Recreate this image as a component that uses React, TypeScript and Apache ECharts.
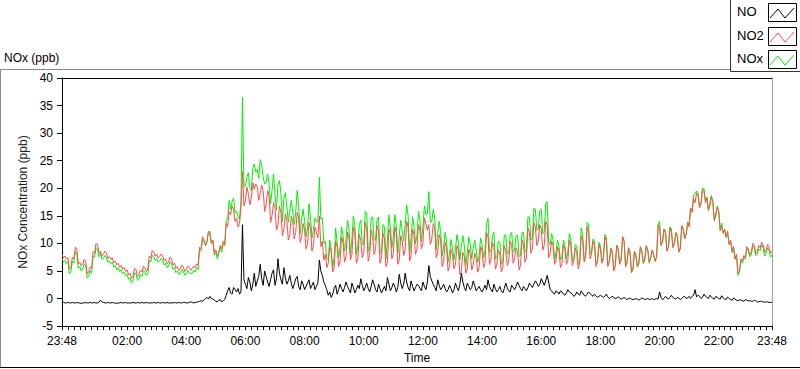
import React, { useEffect, useRef } from "react";
import * as echarts from "echarts";

// Time axis: minutes after 23:48. Main samples every 6 minutes, with the
// readings that fall between them (3 minutes later) kept in *_MID arrays.
const STEP_MIN = 6;
const TICK_MINUTES = [0, 132, 252, 372, 492, 612, 732, 852, 972, 1092, 1212, 1332, 1440];
const TICK_LABELS = ["23:48", "02:00", "04:00", "06:00", "08:00", "10:00", "12:00", "14:00", "16:00", "18:00", "20:00", "22:00", "23:48"];

const NO2 = [
  8.0, 7.7, 7.4, 5.6, 7.2, 9.0, 6.6, 6.2, 6.8, 4.8,
  5.4, 8.2, 9.8, 8.6, 8.0, 8.3, 7.6, 7.4, 6.8, 6.4,
  6.0, 5.6, 5.2, 4.6, 4.0, 5.2, 4.3, 4.8, 5.6, 5.2,
  7.4, 8.4, 8.0, 7.6, 7.8, 7.2, 6.6, 7.2, 6.4, 5.8,
  5.4, 5.8, 5.2, 5.6, 5.4, 5.6, 6.0, 9.0, 10.6, 10.2,
  11.6, 10.6, 8.8, 8.4, 9.0, 9.8, 13.0, 15.2, 16.2, 14.6,
  13.6, 23.0, 17.8, 19.0, 18.2, 19.8, 20.2, 19.0, 19.6, 17.0,
  18.6, 15.0, 16.4, 13.4, 15.6, 12.6, 14.2, 11.6, 13.8, 12.0,
  14.6, 11.2, 12.4, 10.0, 12.8, 9.6, 12.0, 15.0, 10.4, 8.0,
  6.4, 8.6, 5.6, 9.4, 6.8, 10.2, 7.6, 11.0, 8.0, 12.0,
  7.2, 10.6, 8.4, 12.8, 7.8, 11.4, 9.0, 12.2, 7.4, 10.8,
  6.6, 11.6, 8.2, 12.0, 7.0, 10.4, 8.8, 13.0, 7.8, 11.6,
  9.0, 12.4, 10.0, 13.6, 13.4, 10.8, 12.6, 8.4, 10.6, 6.8,
  9.2, 5.8, 8.0, 6.2, 8.8, 5.0, 7.6, 5.4, 8.2, 6.0,
  7.4, 5.6, 8.6, 6.4, 11.2, 7.0, 9.4, 6.2, 8.0, 5.6,
  8.8, 6.8, 9.6, 7.2, 8.4, 6.0, 9.8, 7.4, 12.0, 9.0,
  13.0, 10.4, 12.6, 9.6, 13.4, 8.2, 9.6, 7.0, 8.6, 6.4,
  9.0, 7.0, 9.8, 6.8, 8.4, 6.2, 10.6, 7.4, 12.2, 8.0,
  9.6, 6.6, 9.0, 7.2, 10.4, 6.6, 8.2, 5.8, 8.8, 7.0,
  10.4, 6.6, 8.4, 5.4, 7.8, 6.6, 8.6, 7.2, 8.8, 7.4,
  8.0, 7.6, 12.8, 10.4, 11.8, 9.4, 12.0, 10.0, 11.2, 9.2,
  12.4, 11.6, 13.0, 15.6, 17.4, 18.6, 17.2, 19.4, 18.2, 16.8,
  17.6, 15.0, 15.8, 13.2, 12.6, 12.0, 10.6, 9.4, 8.0, 5.0,
  6.8, 7.4, 9.0, 8.4, 9.6, 8.6, 9.2, 9.8, 8.8, 9.4, 8.6,
];

const NO2_MID = [
  7.4, 7.1, 5.3, 7.5, 9.3, 6.3, 5.9, 7.1, 4.5, 5.7,
  8.5, 10.0, 8.3, 7.7, 8.6, 7.3, 7.1, 6.5, 6.1, 5.7,
  5.3, 4.9, 4.3, 3.7, 5.5, 4.0, 5.1, 5.9, 4.9, 7.7,
  8.7, 7.7, 7.3, 8.1, 6.9, 6.3, 7.5, 6.1, 5.5, 5.1,
  6.1, 4.9, 5.9, 5.1, 5.9, 6.3, 9.3, 11.2, 9.6, 12.2,
  10.0, 8.2, 7.8, 9.6, 10.4, 13.6, 15.8, 16.8, 14.0, 13.0,
  16.4, 16.8, 20.2, 17.0, 21.0, 20.8, 17.8, 20.6, 15.8, 19.6,
  13.8, 17.4, 12.4, 16.8, 11.4, 15.4, 10.6, 15.0, 10.8, 15.6,
  10.2, 13.6, 9.0, 13.8, 8.6, 13.0, 11.0, 9.4, 7.0, 5.6,
  9.4, 4.8, 10.4, 5.8, 11.2, 6.6, 12.0, 7.0, 13.0, 6.4,
  11.6, 7.4, 13.8, 6.8, 12.4, 8.0, 13.2, 6.4, 11.8, 5.8,
  12.6, 7.2, 13.0, 6.2, 11.4, 7.8, 14.0, 6.8, 12.6, 8.0,
  13.4, 9.0, 14.6, 12.4, 9.8, 13.6, 7.4, 11.6, 5.8, 10.2,
  5.0, 8.9, 5.4, 9.6, 4.4, 8.4, 4.6, 9.0, 5.2, 8.2,
  4.8, 9.4, 5.6, 12.0, 6.2, 10.2, 5.4, 8.8, 4.8, 9.6,
  6.0, 10.4, 6.4, 9.2, 5.2, 10.6, 6.6, 12.8, 8.2, 13.8,
  9.6, 13.4, 8.8, 14.0, 7.4, 10.4, 6.2, 9.4, 5.6, 9.8,
  6.2, 10.6, 6.0, 9.2, 5.4, 11.4, 6.6, 13.0, 7.2, 10.4,
  5.8, 9.8, 6.4, 11.2, 5.8, 9.0, 5.0, 9.6, 6.2, 11.2,
  5.8, 9.2, 4.8, 8.6, 5.8, 9.4, 6.4, 9.6, 6.6, 8.8,
  6.8, 13.4, 9.6, 12.6, 8.6, 12.8, 9.2, 12.0, 8.4, 13.2,
  10.8, 13.8, 16.4, 18.2, 19.2, 16.4, 19.8, 17.4, 16.0, 18.4,
  14.2, 16.6, 12.4, 11.8, 11.2, 9.8, 8.6, 7.2, 4.6, 7.2,
  7.8, 9.4, 8.0, 10.0, 8.2, 9.6, 10.2, 8.4, 9.8, 8.2,
];

const NO = [
  -0.8, -0.8, -0.7, -0.8, -0.8, -0.7, -0.8, -0.8, -0.7, -0.8,
  -0.8, -0.7, -0.8, -0.3, -0.7, -0.8, -0.8, -0.7, -0.8, -0.8,
  -0.7, -0.8, -0.8, -0.8, -0.7, -0.8, -0.8, -0.7, -0.8, -0.8,
  -0.8, -0.7, -0.8, -0.8, -0.7, -0.8, -0.8, -0.8, -0.7, -0.8,
  -0.8, -0.7, -0.8, -0.7, -0.7, -0.7, -0.6, -0.4, -0.3, 0.2,
  0.4, -0.1, -0.5, -0.3, -0.6, -0.2, 1.4, 1.0, 2.0, 1.2,
  0.8, 13.4, 2.6, 3.8, 1.4, 4.6, 3.2, 6.2, 2.4, 4.0,
  2.2, 4.6, 2.4, 7.2, 3.4, 5.6, 2.6, 4.2, 1.8, 3.6,
  2.2, 3.2, 1.6, 2.8, 1.8, 3.0, 2.2, 7.0, 4.2, 2.4,
  0.6, 0.2, 1.8, 0.8, 2.6, 1.2, 3.0, 1.6, 2.8, 1.0,
  2.4, 3.6, 1.4, 2.8, 1.2, 3.4, 1.6, 2.6, 1.0, 2.2,
  3.8, 1.4, 2.8, 1.2, 4.4, 1.8, 4.6, 2.0, 3.2, 1.4,
  2.6, 1.8, 3.0, 1.6, 6.0, 3.2, 2.0, 3.4, 1.6, 2.6,
  1.2, 2.4, 1.0, 2.8, 1.4, 4.6, 2.0, 2.8, 1.6, 3.2,
  1.4, 2.2, 1.2, 2.4, 3.4, 1.6, 2.6, 1.2, 2.2, 1.0,
  2.8, 1.4, 2.4, 1.6, 3.0, 1.8, 2.2, 1.4, 2.8, 2.0,
  3.2, 2.2, 3.6, 2.4, 4.2, 1.6, 1.0, 1.4, 0.8, 1.2,
  0.6, 1.6, 1.0, 0.4, 1.2, 0.6, 1.0, 0.4, 1.2, 0.6,
  0.8, 0.2, 0.6, 0.2, 0.8, 0.0, 0.4, 0.0, 0.3, -0.1,
  0.2, -0.2, 0.1, -0.2, 0.0, -0.3, 0.1, -0.2, 0.0, -0.1,
  -0.2, 0.0, 1.2, -0.2, 0.4, -0.1, 0.6, 0.0, 0.2, -0.2,
  0.3, 0.0, 0.4, 0.4, 1.6, 0.6, 0.0, 0.8, 0.2, 0.6,
  0.0, 0.4, 0.0, 0.5, -0.1, 0.3, -0.2, 0.1, -0.3, -0.2,
  -0.4, -0.2, -0.4, -0.5, -0.3, -0.6, -0.5, -0.6, -0.6, -0.7, -0.7,
];

const NO_MID = [
  -0.7, -0.8, -0.8, -0.7, -0.8, -0.8, -0.9, -0.8, -0.8, -0.7,
  -0.8, -0.8, -0.7, -0.6, -0.8, -0.7, -0.8, -0.8, -0.9, -0.8,
  -0.8, -0.7, -0.8, -0.8, -0.8, -0.7, -0.8, -0.8, -0.7, -0.8,
  -0.8, -0.8, -0.7, -0.8, -0.8, -0.7, -0.8, -0.8, -0.8, -0.7,
  -0.8, -0.7, -0.8, -0.6, -0.8, -0.7, -0.5, -0.5, 0.0, -0.1,
  0.0, -0.3, -0.6, -0.2, -0.4, 0.6, 2.0, 0.8, 1.6, 1.8,
  1.2, 3.4, 1.8, 3.0, 2.6, 2.2, 4.0, 3.6, 5.0, 3.0,
  3.4, 5.2, 3.6, 4.6, 2.6, 3.8, 3.2, 2.8, 2.6, 4.0,
  1.6, 2.6, 2.2, 3.4, 2.4, 1.6, 2.8, 5.0, 3.0, 1.6,
  1.2, 0.8, 2.4, 1.6, 1.8, 2.0, 2.2, 1.0, 2.0, 1.6,
  1.8, 2.4, 2.0, 1.8, 2.2, 2.6, 1.2, 1.8, 1.6, 1.4,
  2.6, 2.0, 2.2, 2.0, 2.8, 2.6, 3.0, 1.4, 2.2, 2.0,
  2.4, 1.4, 2.2, 3.0, 4.0, 2.6, 1.4, 2.4, 2.0, 1.8,
  1.6, 1.8, 1.6, 2.0, 2.6, 3.0, 1.4, 2.2, 2.0, 2.4,
  1.8, 1.6, 1.8, 1.6, 2.2, 1.2, 1.8, 1.6, 1.4, 1.8,
  2.0, 1.2, 2.0, 2.2, 2.4, 1.4, 1.8, 2.0, 2.4, 2.6,
  2.8, 2.6, 3.0, 3.2, 3.0, 1.4, 0.8, 1.2, 1.4, 0.8,
  1.0, 1.2, 0.8, 0.6, 0.8, 1.4, 0.6, 0.8, 0.9, 0.4,
  0.5, 0.4, 0.4, 0.4, 0.3, 0.2, 0.2, 0.1, 0.1, 0.0,
  0.0, 0.0, -0.1, -0.1, -0.1, -0.1, 0.0, -0.1, -0.2, 0.0,
  -0.1, -0.1, 0.2, 0.0, 0.1, 0.2, 0.2, -0.1, 0.1, 0.0,
  0.4, 0.1, 0.0, 0.6, 0.3, 0.4, 0.2, 0.4, 0.0, 0.3,
  -0.1, 0.2, -0.1, 0.1, -0.2, 0.0, -0.3, -0.1, -0.4, -0.3,
  -0.5, -0.3, -0.4, -0.5, -0.4, -0.6, -0.5, -0.7, -0.6, -0.7,
];

const NOX = [
  7.2, 6.9, 6.7, 4.8, 6.4, 8.3, 5.8, 5.4, 6.1, 4.0,
  4.6, 7.5, 9.0, 8.3, 7.3, 7.5, 6.8, 6.6, 6.0, 5.6,
  5.2, 4.8, 4.4, 3.8, 3.2, 4.4, 3.5, 4.0, 4.8, 4.4,
  6.6, 7.6, 7.2, 6.8, 7.0, 6.4, 5.8, 6.4, 5.6, 5.0,
  4.6, 5.0, 4.4, 4.8, 4.6, 4.8, 5.3, 8.6, 10.3, 10.4,
  12.2, 10.5, 8.3, 8.1, 8.4, 9.6, 14.4, 16.2, 18.2, 15.8,
  14.4, 36.5, 20.4, 22.8, 19.6, 24.4, 23.4, 25.2, 22.0, 21.0,
  20.8, 19.6, 18.8, 20.6, 19.0, 18.2, 16.8, 15.8, 15.6, 15.6,
  16.8, 14.4, 14.0, 12.8, 14.6, 12.6, 14.2, 22.0, 14.6, 10.4,
  7.0, 8.8, 7.4, 10.2, 9.4, 11.4, 10.6, 12.6, 10.8, 13.0,
  9.6, 14.2, 9.8, 15.6, 9.0, 14.8, 10.6, 14.8, 8.4, 13.0,
  10.4, 13.0, 11.0, 13.2, 11.4, 12.2, 13.4, 15.0, 11.0, 13.0,
  11.6, 14.2, 13.0, 15.2, 19.4, 14.0, 14.6, 11.8, 12.2, 9.4,
  10.4, 8.2, 9.0, 9.0, 10.2, 9.6, 9.6, 8.2, 9.8, 9.2,
  8.8, 7.8, 9.8, 8.8, 14.6, 8.6, 12.0, 7.4, 10.2, 6.6,
  11.6, 8.2, 12.0, 8.8, 11.4, 7.8, 12.0, 8.8, 14.8, 11.0,
  16.2, 12.6, 16.2, 12.0, 17.6, 9.8, 10.6, 8.4, 9.4, 7.6,
  9.6, 8.6, 10.8, 7.2, 9.6, 6.8, 11.6, 7.8, 13.4, 8.6,
  10.4, 6.8, 9.6, 7.4, 11.2, 6.6, 8.6, 5.8, 9.1, 6.9,
  10.6, 6.4, 8.5, 5.2, 7.8, 6.3, 8.7, 7.0, 8.8, 7.3,
  7.8, 7.6, 14.0, 10.2, 12.2, 9.3, 12.6, 10.0, 11.4, 9.0,
  12.7, 11.6, 13.4, 16.0, 19.0, 19.2, 17.2, 20.0, 18.4, 17.4,
  17.6, 15.4, 15.8, 13.7, 12.5, 12.3, 10.4, 9.5, 7.7, 4.8,
  6.4, 7.2, 8.6, 7.9, 9.3, 8.0, 8.7, 9.2, 8.2, 8.7, 7.9,
];

const NOX_MID = [
  6.7, 6.3, 4.5, 6.8, 8.5, 5.5, 5.0, 6.3, 3.7, 5.0,
  7.7, 9.2, 7.6, 7.1, 7.8, 6.6, 6.3, 5.7, 5.2, 4.9,
  4.5, 4.2, 3.5, 2.9, 4.7, 3.3, 4.3, 5.1, 4.2, 6.9,
  7.9, 6.9, 6.6, 7.3, 6.1, 5.6, 6.7, 5.3, 4.7, 4.4,
  5.3, 4.2, 5.1, 4.5, 5.1, 5.6, 8.8, 10.7, 9.6, 12.1,
  10.0, 7.9, 7.2, 9.4, 10.0, 14.2, 17.8, 17.6, 15.6, 14.8,
  17.6, 20.2, 22.0, 20.0, 23.6, 23.0, 21.8, 24.2, 20.8, 22.6,
  17.2, 22.6, 16.0, 21.4, 14.0, 19.2, 13.8, 17.8, 13.4, 19.6,
  11.8, 16.2, 11.2, 17.2, 11.0, 14.6, 13.8, 14.4, 10.0, 7.2,
  10.6, 5.6, 12.8, 7.4, 13.0, 8.6, 14.2, 8.0, 15.0, 8.0,
  13.4, 9.8, 15.8, 8.6, 14.6, 10.6, 14.4, 8.2, 13.4, 7.2,
  15.2, 9.2, 15.2, 8.2, 14.2, 10.4, 17.0, 8.2, 14.8, 10.0,
  15.8, 10.4, 16.8, 15.4, 13.8, 16.2, 8.8, 14.0, 7.8, 12.0,
  6.6, 10.7, 7.0, 11.6, 7.0, 11.4, 6.0, 11.2, 7.2, 10.6,
  6.6, 11.0, 7.4, 13.6, 8.4, 11.4, 7.2, 10.4, 6.2, 11.4,
  8.0, 11.6, 8.4, 11.4, 7.6, 12.0, 8.4, 14.8, 10.6, 16.4,
  12.4, 16.0, 11.8, 17.2, 10.4, 11.8, 7.0, 10.6, 7.0, 10.6,
  7.2, 11.8, 6.8, 9.8, 6.2, 12.8, 7.2, 13.8, 8.1, 10.8,
  6.3, 10.2, 6.8, 11.6, 6.1, 9.2, 5.2, 9.7, 6.3, 11.2,
  5.8, 9.2, 4.7, 8.5, 5.7, 9.3, 6.4, 9.5, 6.4, 8.8,
  6.7, 13.3, 9.8, 12.6, 8.7, 13.0, 9.4, 11.9, 8.5, 13.2,
  11.2, 13.9, 16.4, 18.8, 19.5, 16.8, 20.0, 17.8, 16.0, 18.7,
  14.1, 16.8, 12.3, 11.9, 11.0, 9.8, 8.3, 7.1, 4.2, 6.9,
  7.3, 9.1, 7.6, 9.5, 7.8, 9.0, 9.7, 7.7, 9.2, 7.5,
];

const SERIES_NAMES = ["NO", "NO2", "NOx"];
const SERIES_COLORS = ["#000000", "#ff4c4c", "#00f000"];

const FONT = "'Liberation Sans', Arial, sans-serif";

function toPairs(main: number[], mid: number[]) {
  const out: number[][] = [];
  main.forEach((v, i) => {
    out.push([i * STEP_MIN, v]);
    if (i < mid.length) out.push([i * STEP_MIN + STEP_MIN / 2, mid[i]]);
  });
  return out;
}

function legendEntry(idx: number, top: number) {
  const bx = 768;
  const by = top;
  return [
    {
      type: "text",
      left: 737,
      top: by + 2,
      style: { text: SERIES_NAMES[idx], font: `13px ${FONT}`, fill: "#000" },
    },
    {
      type: "rect",
      shape: { x: bx + 0.5, y: by + 0.5, width: 28, height: 18 },
      style: { fill: "#fff", stroke: "#000", lineWidth: 1 },
    },
    {
      type: "polyline",
      shape: {
        points: [
          [bx + 2, by + 15],
          [bx + 10, by + 6],
          [bx + 17, by + 15],
          [bx + 26, by + 5],
        ],
      },
      style: { stroke: SERIES_COLORS[idx], lineWidth: 1, fill: null },
    },
  ];
}

export default function App() {
  const ref = useRef<HTMLDivElement>(null);

  useEffect(() => {
    if (!ref.current) return;
    const chart = echarts.init(ref.current, null, { renderer: "svg" });
    const option: any = {
      animation: false,
      backgroundColor: "#ffffff",
      textStyle: { fontFamily: FONT },
      grid: { left: 62, right: 28, top: 78, bottom: 39, containLabel: false },
      xAxis: [
        {
          type: "value",
          min: 0,
          max: 1440,
          interval: 12,
          position: "bottom",
          axisLine: { show: true, onZero: false, lineStyle: { color: "#000", width: 1 } },
          axisTick: { show: true, length: 4, lineStyle: { color: "#000" } },
          axisLabel: {
            margin: 9,
            color: "#000",
            fontSize: 12,
            fontFamily: FONT,
            showMinLabel: true,
            showMaxLabel: true,
            formatter: (v: number) => {
              const k = TICK_MINUTES.indexOf(Math.round(v));
              return k >= 0 ? TICK_LABELS[k] : "";
            },
          },
          splitLine: { show: false },
          name: "Time",
          nameLocation: "middle",
          nameGap: 25,
          nameTextStyle: { color: "#000", fontSize: 12, fontFamily: FONT },
        },
        {
          type: "value",
          min: 0,
          max: 1440,
          position: "top",
          axisLine: { show: true, onZero: false, lineStyle: { color: "#000", width: 1 } },
          axisTick: { show: false },
          axisLabel: { show: false },
          splitLine: { show: false },
        },
      ],
      yAxis: [
        {
          type: "value",
          min: -5,
          max: 40,
          interval: 5,
          position: "left",
          axisLine: { show: true, onZero: false, lineStyle: { color: "#000", width: 1 } },
          axisTick: { show: true, length: 5, lineStyle: { color: "#000" } },
          axisLabel: { margin: 9, color: "#000", fontSize: 12, fontFamily: FONT },
          splitLine: { show: false },
          name: "NOx Concentration (ppb)",
          nameLocation: "middle",
          nameGap: 25,
          nameRotate: 90,
          nameTextStyle: { color: "#222", fontSize: 12, fontFamily: FONT },
        },
        {
          type: "value",
          min: -5,
          max: 40,
          position: "right",
          axisLine: { show: true, onZero: false, lineStyle: { color: "#a0a0a0", width: 1 } },
          axisTick: { show: false },
          axisLabel: { show: false },
          splitLine: { show: false },
        },
      ],
      series: [
        {
          name: "NOx",
          type: "line",
          data: toPairs(NOX, NOX_MID),
          showSymbol: false,
          symbol: "none",
          lineStyle: { color: SERIES_COLORS[2], width: 1 },
          z: 2,
        },
        {
          name: "NO2",
          type: "line",
          data: toPairs(NO2, NO2_MID),
          showSymbol: false,
          symbol: "none",
          lineStyle: { color: SERIES_COLORS[1], width: 1 },
          z: 3,
        },
        {
          name: "NO",
          type: "line",
          data: toPairs(NO, NO_MID),
          showSymbol: false,
          symbol: "none",
          lineStyle: { color: SERIES_COLORS[0], width: 1 },
          z: 4,
        },
      ],
      graphic: [
        {
          type: "line",
          shape: { x1: 0, y1: 69.5, x2: 730, y2: 69.5 },
          style: { stroke: "#8a8a8a", lineWidth: 1 },
        },
        {
          type: "line",
          shape: { x1: 0.5, y1: 69.5, x2: 0.5, y2: 367 },
          style: { stroke: "#8a8a8a", lineWidth: 1 },
        },
        {
          type: "line",
          shape: { x1: 0, y1: 367.5, x2: 800, y2: 367.5 },
          style: { stroke: "#000", lineWidth: 1 },
        },
        {
          type: "text",
          left: 4,
          top: 52,
          style: { text: "NOx (ppb)", font: `12px ${FONT}`, fill: "#000" },
        },
        {
          type: "rect",
          shape: { x: 730.5, y: -1, width: 80, height: 72.5 },
          style: { fill: "#fff", stroke: "#333", lineWidth: 1 },
        },
        ...legendEntry(0, 3),
        ...legendEntry(1, 27),
        ...legendEntry(2, 50),
      ],
    };
    chart.setOption(option);
    return () => {
      chart.dispose();
    };
  }, []);

  return (
    <div
      ref={ref}
      style={{ position: "fixed", left: 0, top: 0, width: 800, height: 369 }}
    />
  );
}
